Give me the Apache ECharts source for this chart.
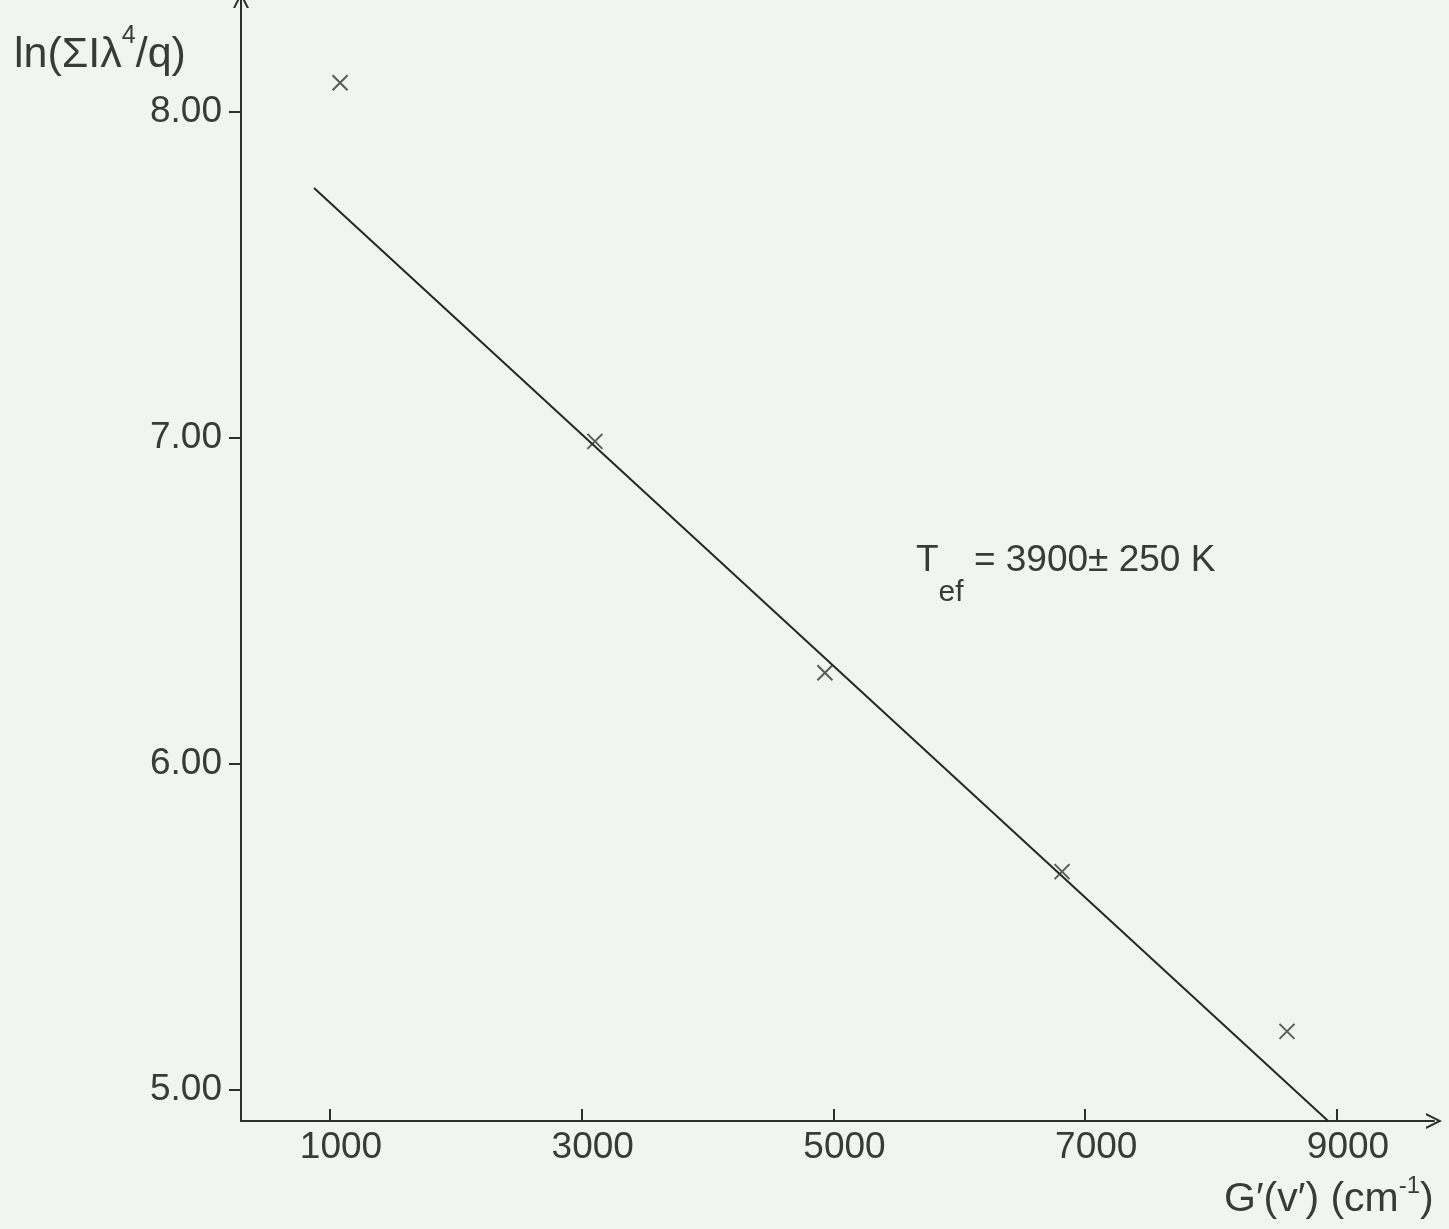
<!DOCTYPE html>
<html>
<head>
<meta charset="utf-8">
<script src="https://cdn.jsdelivr.net/npm/echarts@6/dist/echarts.min.js"></script>
<style>
html,body{margin:0;padding:0;background:#f1f4f1;}
#chart{width:1449px;height:1229px;}
</style>
</head>
<body>
<div id="chart"></div>
<script>
// Data
const xTickValues = [1000, 3000, 5000, 7000, 9000];
const yTickValues = [5, 6, 7, 8];
const pointX = [1080, 3105, 4932, 6816, 8603];
const pointY = [8.09, 6.99, 6.28, 5.67, 5.18];
const fitX = [873, 8930];
const fitY = [7.767, 4.905];
const yAxisTitle = 'ln(ΣIλ{sup|4}/q)';
const xAxisTitle = 'G′(v′) (cm{sup|-1})';
const annotation = '{m|T}{sub|ef}{m| = 3900± 250 K}';

const ink = '#2e2e2e';
const textInk = '#3a3a3a';
const font = 'Liberation Sans';
const chevron = 'path://M0,10 L5,0 L10,10 L8.6,10 L5,2.8 L1.4,10 Z';

const chart = echarts.init(document.getElementById('chart'));
chart.setOption({
  backgroundColor: '#f1f4f1',
  animation: false,
  grid: { left: 241, right: 15, top: 0, bottom: 108, outerBoundsMode: 'none', containLabel: false },
  xAxis: {
    type: 'value', min: 293, max: 9771,
    axisLine: { show: true, onZero: false, symbol: ['none', chevron], symbolSize: [16, 22],
      lineStyle: { color: ink, width: 2 } },
    axisTick: { show: true, inside: true, length: 12, customValues: xTickValues,
      lineStyle: { color: ink, width: 2 } },
    axisLabel: { customValues: xTickValues, margin: 8, color: textInk, fontFamily: font,
      fontSize: 37, padding: [0, 0, 0, 22], formatter: v => String(v) },
    splitLine: { show: false }
  },
  yAxis: {
    type: 'value', min: 4.905, max: 8.344,
    axisLine: { show: true, onZero: false, symbol: ['none', chevron], symbolSize: [16, 22],
      lineStyle: { color: ink, width: 2 } },
    axisTick: { show: true, inside: false, length: 12, customValues: yTickValues,
      lineStyle: { color: ink, width: 2 } },
    axisLabel: { customValues: yTickValues, margin: 19, color: textInk, fontFamily: font,
      fontSize: 37, formatter: v => v.toFixed(2) },
    splitLine: { show: false }
  },
  series: [
    {
      type: 'line',
      data: fitX.map((x, i) => [x, fitY[i]]),
      symbol: 'none',
      lineStyle: { color: '#262626', width: 2 },
      z: 2
    },
    {
      type: 'scatter',
      data: pointX.map((x, i) => [x, pointY[i]]),
      symbol: 'path://M0,0 L10,10 M10,0 L0,10',
      symbolSize: 15,
      itemStyle: { color: 'rgba(0,0,0,0)', borderColor: '#333', borderWidth: 2 },
      z: 3
    }
  ],
  graphic: [
    {
      type: 'text', left: 14, top: 24,
      style: {
        text: yAxisTitle, fontFamily: font, fontSize: 43, fill: textInk,
        rich: {
          sup: { fontFamily: font, fontSize: 25, lineHeight: 18, verticalAlign: 'top', fill: textInk }
        },
        lineHeight: 62, verticalAlign: 'top'
      }
    },
    {
      type: 'text', left: 1224, top: 1174,
      style: {
        text: xAxisTitle, fontFamily: font, fontSize: 41, fill: textInk,
        rich: {
          sup: { fontFamily: font, fontSize: 24, lineHeight: 24, verticalAlign: 'top', fill: textInk }
        },
        lineHeight: 52, verticalAlign: 'top'
      }
    },
    {
      type: 'text', left: 916, top: 542,
      style: {
        text: annotation, fill: textInk,
        rich: {
          m: { fontFamily: font, fontSize: 37, verticalAlign: 'top', fill: textInk },
          sub: { fontFamily: font, fontSize: 30, lineHeight: 66, verticalAlign: 'bottom', fill: textInk }
        },
        verticalAlign: 'top'
      }
    }
  ]
});
</script>
</body>
</html>
